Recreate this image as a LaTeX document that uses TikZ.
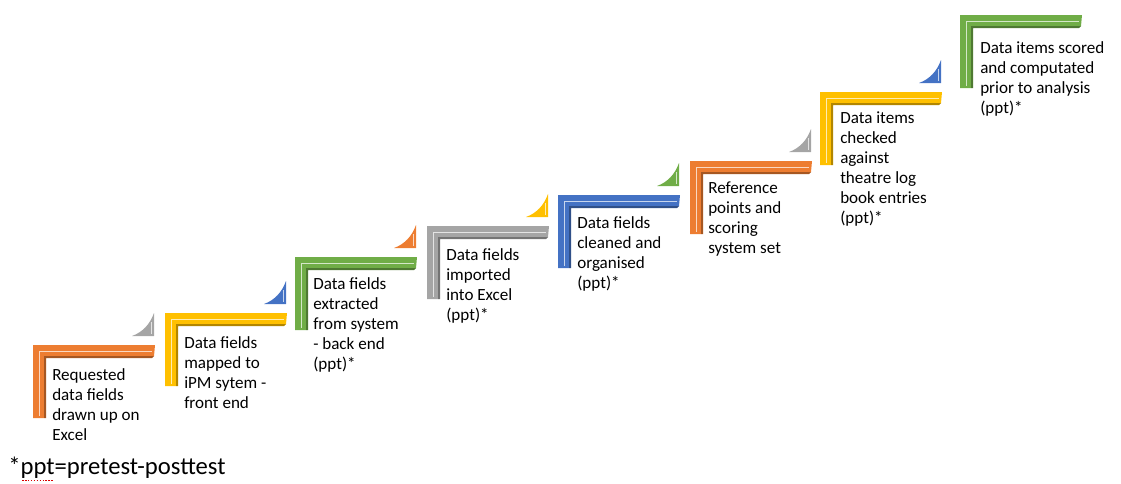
\documentclass[tikz,border=0pt]{standalone}
\usepackage{fontspec}
\setmainfont{Carlito}
\usepackage{xcolor}
\definecolor{ac1}{HTML}{ED7D31}
\definecolor{ac2}{HTML}{A5A5A5}
\definecolor{ac3}{HTML}{FFC000}
\definecolor{ac4}{HTML}{4472C4}
\definecolor{ac5}{HTML}{70AD47}

\begin{document}
\begin{tikzpicture}[
        x=0.75pt, y=-0.75pt,
        stepbar/.pic={
            \fill[#1] (0,0) -- (122,0) -- (121,11) -- (11,11) -- (11,73) -- (0,73) -- cycle;
            \fill[#1!70!black] (11,11) -- (121,11) -- (119,13) -- (13,13) -- (13,73) -- (11,73) -- cycle;
            \draw[#1!30!white, line width=1.4pt] (119,6.5) -- (6.5,6.5) -- (6.5,71);
        },
        upmark/.pic={
            \fill[#1] (0,0) .. controls (11,-4) and (18,-12) .. (22,-23) -- (22,0) -- cycle;
            \draw[#1!30!white, line width=1pt] (19.5,-14) -- (19.5,-2);
        },
        lbl/.style={anchor=north west, align=left, inner sep=0pt,
                    font=\fontsize{12.8}{15}\selectfont}
    ]
    \useasboundingbox (0,0) rectangle (1121,483);

    % ---- Step 1 ----
    \pic at (33,345) {stepbar=ac1};
    \pic at (132,336) {upmark=ac2};
    \node[lbl] (s1) at (52,368) {Requested\\data fields\\drawn up on\\Excel};

    % ---- Step 2 ----
    \pic at (165,313) {stepbar=ac3};
    \pic at (264,304) {upmark=ac4};
    \node[lbl] (s2) at (184,336) {Data fields\\mapped to\\iPM sytem -\\front end};

    % ---- Step 3 ----
    \pic at (295,257) {stepbar=ac5};
    \pic at (394,248) {upmark=ac1};
    \node[lbl] (s3) at (313,277) {Data fields\\extracted\\from system\\- back end\\(ppt)*};

    % ---- Step 4 ----
    \pic at (427,226) {stepbar=ac2};
    \pic at (526,217) {upmark=ac3};
    \node[lbl] (s4) at (446,248) {Data fields\\imported\\into Excel\\(ppt)*};

    % ---- Step 5 ----
    \pic at (558,195) {stepbar=ac4};
    \pic at (657,186) {upmark=ac5};
    \node[lbl] (s5) at (577,216) {Data fields\\cleaned and\\organised\\(ppt)*};

    % ---- Step 6 ----
    \pic at (690,161) {stepbar=ac1};
    \pic at (789,152) {upmark=ac2};
    \node[lbl] (s6) at (708,182) {Reference\\points and\\scoring\\system set};

    % ---- Step 7 ----
    \pic at (820,92) {stepbar=ac3};
    \pic at (919,83) {upmark=ac4};
    \node[lbl] (s7) at (840,111) {Data items\\checked\\against\\theatre log\\book entries\\(ppt)*};

    % ---- Step 8 ----
    \pic at (960,15) {stepbar=ac5};
    \node[lbl] (s8) at (980,41) {Data items scored\\and computated\\prior to analysis\\(ppt)*};

    % ---- Footnote ----
    \node[anchor=base west, inner sep=0pt, font=\fontsize{18.5}{22}\selectfont]
        (note) at (8,474) {*ppt=pretest-posttest};
    \draw[red!85!black, line width=0.6pt, dash pattern=on 1.2pt off 1pt] (22,480) -- (54,480);
\end{tikzpicture}
\end{document}
